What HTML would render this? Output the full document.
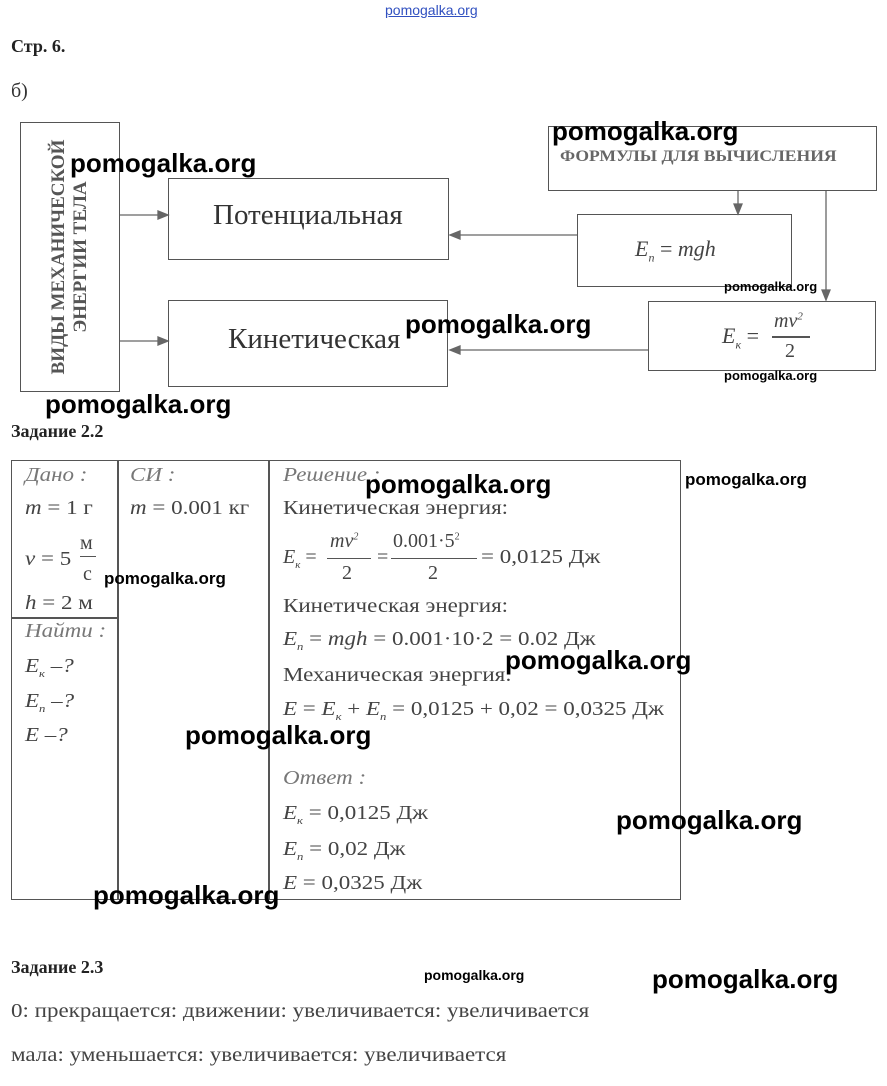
<!DOCTYPE html>
<html><head><meta charset="utf-8"><style>
body{margin:0;width:887px;height:1086px;background:#fff;position:relative;overflow:hidden;font-family:"Liberation Serif",serif;color:#333}
.a{position:absolute;white-space:nowrap}
.b{position:absolute;border:1.5px solid #555;box-sizing:border-box}
.w{position:absolute;font-family:"Liberation Sans",sans-serif;font-weight:bold;color:#000;white-space:nowrap;font-size:26px}
.ws{font-size:13px}
.i{font-style:italic}
.f{font-size:20px;color:#444}
.t{transform:scaleX(1.15);transform-origin:left top}
.ln{position:absolute;background:#555}
</style></head><body>
<div class="a" style="left:385px;top:2px;font-family:'Liberation Sans',sans-serif;color:#3050c0;font-size:14px;text-decoration:underline">pomogalka.org</div>
<div class="a" style="left:11px;top:36px;font-size:18px;font-weight:bold;color:#222">Стр. 6.</div>
<div class="a" style="left:11px;top:80px;font-size:20px;color:#333">б)</div>

<!-- diagram -->
<div class="b" style="left:20px;top:122px;width:100px;height:270px"></div>
<div class="a" style="left:70px;top:257px;transform:translate(-50%,-50%) rotate(-90deg);font-size:19px;font-weight:bold;color:#555;text-align:center;line-height:22px">ВИДЫ МЕХАНИЧЕСКОЙ<br>ЭНЕРГИИ ТЕЛА</div>
<div class="b" style="left:168px;top:178px;width:281px;height:82px"></div>
<div class="a" style="left:213px;top:199px;font-size:29px;color:#333">Потенциальная</div>
<div class="b" style="left:168px;top:300px;width:280px;height:87px"></div>
<div class="a" style="left:228px;top:323px;font-size:29px;color:#333">Кинетическая</div>
<div class="b" style="left:548px;top:126px;width:329px;height:65px"></div>
<div class="a" style="left:560px;top:148px;font-size:16px;font-weight:bold;color:#666;transform:scaleX(1.1);transform-origin:left top">ФОРМУЛЫ ДЛЯ ВЫЧИСЛЕНИЯ</div>
<div class="b" style="left:577px;top:214px;width:215px;height:73px"></div>
<div class="a f i" style="left:635px;top:236px;font-size:22px">E<sub style="font-size:12px">п</sub> <span style="font-style:normal">=</span> mgh</div>
<div class="b" style="left:648px;top:301px;width:228px;height:70px"></div>
<div class="a f i" style="left:722px;top:323px;font-size:22px">E<sub style="font-size:12px">к</sub> <span style="font-style:normal">=</span></div>
<div class="a f i" style="left:774px;top:310px;font-size:20px">mv<sup style="font-size:11px">2</sup></div>
<div class="ln" style="left:772px;top:336px;width:38px;height:1.5px"></div>
<div class="a f" style="left:785px;top:340px;font-size:20px">2</div>
<svg class="a" style="left:0;top:0" width="887" height="420">
<g stroke="#666" stroke-width="1.3" fill="#666">
<line x1="120" y1="215" x2="162" y2="215"/><polygon points="168,215 158,211 158,219"/>
<line x1="120" y1="341" x2="162" y2="341"/><polygon points="168,341 158,337 158,345"/>
<line x1="577" y1="235" x2="456" y2="235"/><polygon points="450,235 460,231 460,239"/>
<line x1="648" y1="350" x2="456" y2="350"/><polygon points="450,350 460,346 460,354"/>
<line x1="738" y1="191" x2="738" y2="208"/><polygon points="738,214 734,204 742,204"/>
<line x1="826" y1="191" x2="826" y2="294"/><polygon points="826,300 822,290 830,290"/>
</g></svg>

<div class="a" style="left:11px;top:421px;font-size:18px;font-weight:bold;color:#222">Задание 2.2</div>
<!-- table -->
<div class="b" style="left:11px;top:460px;width:670px;height:440px"></div>
<div class="ln" style="left:117px;top:460px;width:1.5px;height:440px"></div>
<div class="ln" style="left:268px;top:460px;width:1.5px;height:440px"></div>
<div class="ln" style="left:11px;top:617px;width:107px;height:1.5px"></div>
<div class="a f i t" style="left:25px;top:464px;color:#777">Дано :</div>
<div class="a f t" style="left:25px;top:497px"><i>m</i> = 1 г</div>
<div class="a f t" style="left:25px;top:548px"><i>v</i> = 5</div>
<div class="a f" style="left:80px;top:532px">м</div>
<div class="ln" style="left:80px;top:556px;width:16px;height:1px"></div>
<div class="a f" style="left:83px;top:563px">с</div>
<div class="a f t" style="left:25px;top:592px"><i>h</i> = 2 м</div>
<div class="a f i t" style="left:25px;top:620px;color:#777">Найти :</div>
<div class="a f i t" style="left:25px;top:655px">E<sub style="font-size:11px">к</sub> –?</div>
<div class="a f i t" style="left:25px;top:690px">E<sub style="font-size:11px">п</sub> –?</div>
<div class="a f i t" style="left:25px;top:724px">E –?</div>
<div class="a f i t" style="left:130px;top:464px;color:#777">СИ :</div>
<div class="a f t" style="left:130px;top:497px"><i>m</i> = 0.001 кг</div>
<div class="a f i t" style="left:283px;top:464px;color:#777">Решение :</div>
<div class="a f t" style="left:283px;top:497px">Кинетическая энергия:</div>
<div class="a f" style="left:283px;top:546px"><i>E<sub style="font-size:11px">к</sub></i> =</div>
<div class="a f i" style="left:330px;top:530px">mv<sup style="font-size:10px">2</sup></div>
<div class="ln" style="left:327px;top:558px;width:44px;height:1px"></div>
<div class="a f" style="left:342px;top:562px">2</div>
<div class="a f" style="left:377px;top:546px">=</div>
<div class="a f" style="left:393px;top:530px">0.001·5<sup style="font-size:10px">2</sup></div>
<div class="ln" style="left:391px;top:558px;width:86px;height:1px"></div>
<div class="a f" style="left:428px;top:562px">2</div>
<div class="a f t" style="left:481px;top:546px">= 0,0125 Дж</div>
<div class="a f t" style="left:283px;top:595px">Кинетическая энергия:</div>
<div class="a f t" style="left:283px;top:628px"><i>E<sub style="font-size:11px">п</sub></i> = <i>mgh</i> = 0.001·10·2 = 0.02 Дж</div>
<div class="a f t" style="left:283px;top:664px">Механическая энергия:</div>
<div class="a f t" style="left:283px;top:698px"><i>E</i> = <i>E<sub style="font-size:11px">к</sub></i> + <i>E<sub style="font-size:11px">п</sub></i> = 0,0125 + 0,02 = 0,0325 Дж</div>
<div class="a f i t" style="left:283px;top:767px;color:#777">Ответ :</div>
<div class="a f t" style="left:283px;top:802px"><i>E<sub style="font-size:11px">к</sub></i> = 0,0125 Дж</div>
<div class="a f t" style="left:283px;top:838px"><i>E<sub style="font-size:11px">п</sub></i> = 0,02 Дж</div>
<div class="a f t" style="left:283px;top:872px"><i>E</i> = 0,0325 Дж</div>

<div class="a" style="left:11px;top:957px;font-size:18px;font-weight:bold;color:#222">Задание 2.3</div>
<div class="a f" style="left:11px;top:1000px;transform:scaleX(1.15);transform-origin:left top">0: прекращается: движении: увеличивается: увеличивается</div>
<div class="a f" style="left:11px;top:1044px;transform:scaleX(1.15);transform-origin:left top">мала: уменьшается: увеличивается: увеличивается</div>

<!-- watermarks -->
<div class="w" style="left:552px;top:116px">pomogalka.org</div>
<div class="w" style="left:70px;top:148px">pomogalka.org</div>
<div class="w ws" style="left:724px;top:279px">pomogalka.org</div>
<div class="w" style="left:405px;top:309px">pomogalka.org</div>
<div class="w ws" style="left:724px;top:368px">pomogalka.org</div>
<div class="w" style="left:45px;top:389px">pomogalka.org</div>
<div class="w" style="left:365px;top:469px">pomogalka.org</div>
<div class="w" style="left:685px;top:470px;font-size:17px">pomogalka.org</div>
<div class="w" style="left:104px;top:569px;font-size:17px">pomogalka.org</div>
<div class="w" style="left:505px;top:645px">pomogalka.org</div>
<div class="w" style="left:185px;top:720px">pomogalka.org</div>
<div class="w" style="left:616px;top:805px">pomogalka.org</div>
<div class="w" style="left:93px;top:880px">pomogalka.org</div>
<div class="w" style="left:424px;top:967px;font-size:14px">pomogalka.org</div>
<div class="w" style="left:652px;top:964px">pomogalka.org</div>
</body></html>
